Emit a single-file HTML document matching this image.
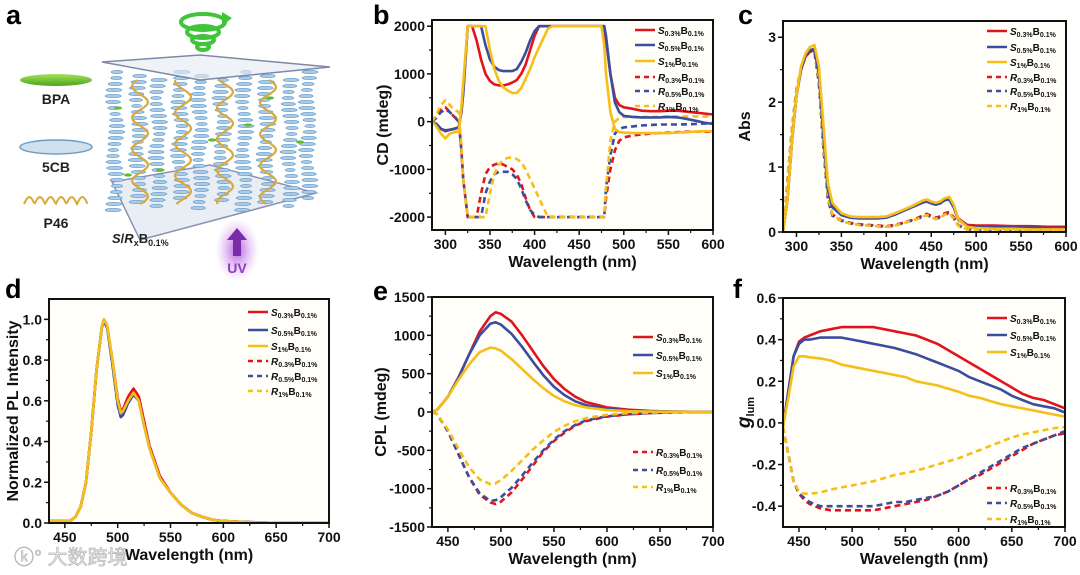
<!DOCTYPE html>
<html><head><meta charset="utf-8">
<style>
html,body{margin:0;padding:0;background:#fff;}
svg{display:block;font-family:"Liberation Sans",Arial,sans-serif;}
.tk{font-size:14px;font-weight:bold;fill:#111;}
.at{font-size:16px;font-weight:bold;fill:#111;}
.lg{font-size:10px;font-weight:bold;fill:#111;}
.pl{font-size:27px;font-weight:bold;fill:#000;}
</style></head>
<body>
<svg id="fig" width="1080" height="575" viewBox="0 0 1080 575" xmlns="http://www.w3.org/2000/svg">
<g id="panelA"></g>
</svg>
<script>
// ---------- DATA ----------
const colors = ["#e0141e","#3a4ea0","#f5bf1a"];
const seriesNames = ["S0.3","S0.5","S1","R0.3","R0.5","R1"];

const bWl = [285,290,295,300,305,310,315,318,320,325,330,335,340,345,350,355,360,365,370,375,380,385,390,395,400,405,410,415,420,430,440,450,460,470,475,478,480,485,490,495,500,510,520,530,540,550,560,570,580,590,600];
const bS03 = [0,-50,-150,-200,-170,-150,-120,200,600,2000,2000,1700,1300,1000,850,780,760,760,780,820,870,1000,1200,1500,1800,2000,2000,2000,2000,2000,2000,2000,2000,2000,2000,2000,1700,1000,500,350,300,270,230,220,220,230,230,210,190,170,150];
const bS05 = [0,-50,-150,-180,-170,-150,-120,200,600,2000,2000,2000,2000,1600,1300,1150,1080,1060,1060,1060,1100,1250,1450,1700,1900,2000,2000,2000,2000,2000,2000,2000,2000,2000,2000,2000,1800,1000,400,200,120,100,90,90,90,100,90,60,20,-20,-50];
const bS1 = [0,-100,-250,-350,-250,-220,-200,300,800,2000,2000,2000,2000,2000,1500,1100,850,720,650,600,600,700,900,1100,1350,1550,1750,1950,2000,2000,2000,2000,2000,2000,2000,1600,1000,200,-150,-220,-230,-240,-240,-240,-240,-240,-230,-220,-210,-200,-200];
const bR03 = [0,100,250,300,200,100,50,-600,-1200,-2000,-2000,-2000,-1500,-1100,-950,-900,-870,-900,-950,-1000,-1100,-1300,-1600,-1850,-2000,-2000,-2000,-2000,-2000,-2000,-2000,-2000,-2000,-2000,-2000,-2000,-1600,-1000,-600,-400,-330,-290,-270,-250,-240,-230,-220,-210,-210,-210,-210];
const bR05 = [0,80,200,250,200,100,0,-600,-1200,-2000,-2000,-2000,-2000,-1500,-1250,-1100,-1050,-1050,-1050,-1100,-1200,-1400,-1650,-1850,-1950,-2000,-2000,-2000,-2000,-2000,-2000,-2000,-2000,-2000,-2000,-2000,-1400,-700,-250,-150,-120,-100,-80,-70,-60,-60,-60,-55,-50,-40,-30];
const bR1 = [0,150,350,450,350,250,200,-500,-1200,-2000,-2000,-2000,-2000,-2000,-1500,-1100,-900,-800,-760,-750,-780,-850,-1000,-1200,-1400,-1600,-1800,-2000,-2000,-2000,-2000,-2000,-2000,-2000,-2000,-2000,-1400,-400,0,80,100,100,100,100,100,110,110,110,110,110,110];
const bYTicks = [-2000,-1000,0,1000,2000];
const bXTicks = [300,350,400,450,500,550,600];

const cWl = [285,290,295,300,305,310,315,320,325,330,335,340,350,360,370,380,390,400,410,420,430,440,445,450,455,460,465,470,475,480,490,500,520,540,560,580,600];
const cS03 = [0,0.5,1.4,2.1,2.5,2.7,2.78,2.8,2.45,1.55,0.7,0.42,0.28,0.23,0.22,0.22,0.22,0.23,0.28,0.34,0.40,0.46,0.48,0.45,0.43,0.45,0.49,0.51,0.40,0.21,0.11,0.1,0.1,0.09,0.09,0.08,0.08];
const cS05 = [0,0.5,1.4,2.1,2.5,2.72,2.8,2.82,2.45,1.5,0.65,0.38,0.26,0.22,0.21,0.21,0.21,0.22,0.27,0.33,0.39,0.45,0.47,0.44,0.42,0.44,0.49,0.5,0.38,0.19,0.09,0.08,0.08,0.07,0.07,0.06,0.06];
const cS1 = [0,0.5,1.4,2.1,2.55,2.75,2.85,2.88,2.55,1.65,0.75,0.45,0.29,0.24,0.23,0.23,0.23,0.24,0.29,0.35,0.41,0.48,0.5,0.47,0.45,0.47,0.52,0.54,0.42,0.2,0.08,0.06,0.05,0.05,0.04,0.04,0.04];
const cR03 = [0,0.8,1.6,2.2,2.5,2.7,2.78,2.78,2.3,1.3,0.5,0.27,0.18,0.14,0.12,0.11,0.1,0.09,0.11,0.15,0.19,0.25,0.28,0.25,0.22,0.24,0.29,0.31,0.23,0.11,0.05,0.04,0.03,0.03,0.03,0.03,0.03];
const cR05 = [0,0.8,1.6,2.2,2.5,2.7,2.78,2.78,2.3,1.3,0.5,0.25,0.17,0.13,0.11,0.1,0.09,0.08,0.1,0.14,0.18,0.23,0.26,0.23,0.2,0.22,0.27,0.29,0.21,0.1,0.04,0.03,0.03,0.02,0.02,0.02,0.02];
const cR1 = [0,0.8,1.6,2.2,2.5,2.7,2.8,2.8,2.35,1.35,0.55,0.27,0.17,0.13,0.11,0.1,0.09,0.08,0.1,0.14,0.18,0.23,0.26,0.23,0.2,0.22,0.27,0.29,0.21,0.1,0.04,0.03,0.03,0.02,0.02,0.02,0.02];
const cYTicks = [0,1,2,3];
const cXTicks = [300,350,400,450,500,550,600];

const dWl = [435,440,450,455,460,465,470,475,480,485,487,490,495,500,503,505,510,515,520,525,530,540,550,560,570,580,590,600,620,650,700];
const dS03 = [0.01,0.01,0.01,0.01,0.03,0.08,0.2,0.45,0.75,0.96,1.0,0.97,0.8,0.61,0.55,0.56,0.62,0.66,0.62,0.5,0.38,0.23,0.15,0.09,0.05,0.03,0.015,0.01,0.005,0,0];
const dS05 = [0.01,0.01,0.01,0.01,0.03,0.08,0.2,0.45,0.75,0.96,0.99,0.96,0.78,0.58,0.52,0.53,0.59,0.63,0.6,0.48,0.37,0.22,0.15,0.09,0.05,0.03,0.015,0.01,0.005,0,0];
const dS1 = [0.01,0.01,0.01,0.01,0.03,0.08,0.2,0.45,0.75,0.96,1.0,0.97,0.8,0.6,0.54,0.55,0.6,0.64,0.6,0.48,0.37,0.22,0.15,0.09,0.05,0.03,0.015,0.01,0.005,0,0];
const dR03 = dS03.slice();
const dR05 = dS05.slice();
const dR1 = dS1.slice();
const dYTicks = [0.0,0.2,0.4,0.6,0.8,1.0];
const dXTicks = [450,500,550,600,650,700];

const eWl = [435,440,450,460,470,480,490,495,500,510,520,530,540,550,560,570,580,600,620,640,660,680,700];
const eS03 = [0,30,200,450,750,1050,1250,1300,1280,1180,1000,800,600,430,300,200,130,60,30,15,5,2,0];
const eS05 = [0,30,200,450,750,1000,1150,1170,1140,1020,850,660,480,330,220,140,90,40,20,10,5,2,0];
const eS1 = [0,30,200,420,620,780,840,830,800,690,560,430,310,210,140,90,60,25,10,5,2,1,0];
const eR03 = [0,-30,-250,-550,-850,-1080,-1180,-1200,-1170,-1050,-880,-700,-520,-380,-270,-180,-120,-60,-30,-15,-5,-2,0];
const eR05 = [0,-30,-250,-550,-850,-1060,-1160,-1150,-1110,-990,-830,-660,-500,-360,-250,-170,-110,-55,-30,-15,-5,-2,0];
const eR1 = [0,-30,-230,-480,-720,-880,-940,-930,-890,-770,-630,-490,-370,-260,-180,-120,-80,-35,-15,-8,-3,-1,0];
const eYTicks = [-1500,-1000,-500,0,500,1000,1500];
const eXTicks = [450,500,550,600,650,700];

const fWl = [435,440,445,450,455,460,470,480,490,500,510,520,530,540,550,560,570,580,590,600,610,620,630,640,650,660,670,680,690,700];
const fS03 = [-0.02,0.15,0.32,0.39,0.41,0.42,0.44,0.45,0.46,0.46,0.46,0.46,0.45,0.44,0.43,0.42,0.40,0.38,0.35,0.32,0.29,0.26,0.23,0.20,0.17,0.14,0.12,0.11,0.09,0.07];
const fS05 = [-0.02,0.15,0.32,0.38,0.40,0.40,0.41,0.41,0.41,0.40,0.39,0.38,0.37,0.36,0.345,0.33,0.31,0.29,0.27,0.25,0.22,0.20,0.18,0.16,0.13,0.11,0.09,0.08,0.07,0.05];
const fS1 = [-0.02,0.12,0.27,0.32,0.32,0.315,0.31,0.30,0.28,0.27,0.26,0.25,0.24,0.23,0.22,0.20,0.19,0.18,0.165,0.15,0.13,0.12,0.105,0.09,0.08,0.07,0.06,0.05,0.04,0.03];
const fR03 = [-0.02,-0.15,-0.28,-0.34,-0.37,-0.39,-0.41,-0.42,-0.42,-0.42,-0.42,-0.42,-0.41,-0.40,-0.39,-0.38,-0.37,-0.35,-0.33,-0.30,-0.27,-0.25,-0.22,-0.19,-0.16,-0.13,-0.10,-0.08,-0.06,-0.05];
const fR05 = [-0.02,-0.15,-0.28,-0.34,-0.36,-0.38,-0.40,-0.40,-0.40,-0.40,-0.40,-0.40,-0.39,-0.38,-0.38,-0.37,-0.36,-0.35,-0.33,-0.30,-0.27,-0.24,-0.21,-0.18,-0.15,-0.12,-0.10,-0.08,-0.06,-0.04];
const fR1 = [-0.02,-0.15,-0.28,-0.33,-0.34,-0.34,-0.335,-0.32,-0.31,-0.30,-0.29,-0.28,-0.265,-0.25,-0.24,-0.23,-0.215,-0.20,-0.185,-0.17,-0.15,-0.13,-0.11,-0.09,-0.07,-0.055,-0.045,-0.035,-0.025,-0.02];
const fYTicks = [-0.4,-0.2,0.0,0.2,0.4,0.6];
const fXTicks = [450,500,550,600,650,700];

// ---------- DRAW ----------
const NS = "http://www.w3.org/2000/svg";
const fig = document.getElementById('fig');
function mk(tag, attrs, parent){ const e=document.createElementNS(NS,tag); for(const k in attrs) e.setAttribute(k,attrs[k]); (parent||fig).appendChild(e); return e; }

function legendLabel(g, x, y, letter, sub){
  const t = mk('text',{x:x,y:y,class:'lg'},g);
  
  
  t.innerHTML = '<tspan font-style="italic">'+letter+'</tspan><tspan font-size="7" dy="2">'+sub+'%</tspan><tspan dy="-2">B</tspan><tspan font-size="7" dy="2">0.1%</tspan>';
}

function panel(p){
  const g = mk('g',{});
  
  
  const sx = v => p.L + (v - p.x0)/(p.x1 - p.x0)*(p.R - p.L);
  const sy = v => p.B - (v - p.y0)/(p.y1 - p.y0)*(p.B - p.T);
  const bg = mk('rect',{x:p.L,y:p.T,width:p.R-p.L,height:p.B-p.T,fill:'#fffef9'},g);
  
  
  const clipId = 'clip'+p.name;
  const cp = mk('clipPath',{id:clipId},g);
  mk('rect',{x:p.L,y:p.T,width:p.R-p.L,height:p.B-p.T},cp);
  const lines = mk('g',{'clip-path':'url(#'+clipId+')'},g);
  const order = [3,4,5,0,1,2];
  order.forEach(i=>{
    const ys = p.series[i];
    let d = '';
    p.xs.forEach((xv,j)=>{ d += (j?'L':'M') + sx(xv).toFixed(1) + ',' + sy(ys[j]).toFixed(1); });
    const path = mk('path',{d:d,fill:'none',stroke:colors[i%3],'stroke-width':2.6,'stroke-linejoin':'round','stroke-dasharray': i>=3 ? '6,4' : 'none'},lines);
    
    
  });
  const fr = mk('rect',{x:p.L,y:p.T,width:p.R-p.L,height:p.B-p.T,fill:'none',stroke:'#111','stroke-width':2},g);
  
  
  p.xt.forEach((v,k)=>{
    const x = sx(v);
    mk('line',{x1:x,y1:p.B,x2:x,y2:p.B+5,stroke:'#111','stroke-width':1.5},g);
    if(k<p.xt.length-1){ const xm = sx((v+p.xt[k+1])/2); mk('line',{x1:xm,y1:p.B,x2:xm,y2:p.B+3,stroke:'#111','stroke-width':1.2},g); }
    const t = mk('text',{x:x,y:p.B+19,'text-anchor':'middle',class:'tk'},g);
    
    
    t.textContent = v;
  });
  p.yt.forEach((v,k)=>{
    const y = sy(v);
    mk('line',{x1:p.L-5,y1:y,x2:p.L,y2:y,stroke:'#111','stroke-width':1.5},g);
    if(k<p.yt.length-1){ const ym = sy((v+p.yt[k+1])/2); mk('line',{x1:p.L-3,y1:ym,x2:p.L,y2:ym,stroke:'#111','stroke-width':1.2},g); }
    const t = mk('text',{x:p.L-7,y:y+5,'text-anchor':'end',class:'tk'},g);
    
    
    t.textContent = p.fmt ? p.fmt(v) : v;
  });
  const xt = mk('text',{x:(p.L+p.R)/2,y:p.B+37,'text-anchor':'middle',class:'at'},g);
  
  
  xt.textContent = 'Wavelength (nm)';
  const yt = mk('text',{x:0,y:0,'text-anchor':'middle',class:'at',transform:'translate('+p.ytx+','+((p.T+p.B)/2)+') rotate(-90)'},g);
  
  
  if(p.ytitleHTML) yt.innerHTML = p.ytitleHTML; else yt.textContent = p.ytitle;
  const pl = mk('text',{x:p.lx,y:p.ly,class:'pl'},g);
  
  
  pl.textContent = p.letter;
  const lg = mk('g',{},g);
  
  
  p.legY.forEach((y,i)=>{
    if(y==null) return;
    const ln = mk('line',{x1:p.legX,y1:y,x2:p.legX+20,y2:y,stroke:colors[i%3],'stroke-width':2.6,'stroke-dasharray': i>=3?'5,4':'none'},lg);
    
    
    const subs = ['0.3','0.5','1'];
    legendLabel(lg, p.legX+23, y+4, i<3?'S':'R', subs[i%3]);
  });
}

panel({name:'cd-chart-b',letter:'b',lx:373,ly:24,L:432,R:713,T:20,B:230,x0:285,x1:600,y0:-2270,y1:2130,
  xs:bWl,series:[bS03,bS05,bS1,bR03,bR05,bR1],xt:bXTicks,yt:bYTicks,ytitle:'CD (mdeg)',ytx:388,
  legX:635,legY:[30,45,61,77,91,106]});
panel({name:'abs-chart-c',letter:'c',lx:738,ly:24,L:783,R:1066,T:21,B:232,x0:285,x1:600,y0:0,y1:3.25,
  xs:cWl,series:[cS03,cS05,cS1,cR03,cR05,cR1],xt:cXTicks,yt:cYTicks,ytitle:'Abs',ytx:750,
  legX:987,legY:[31,47,62,77,91,106]});
panel({name:'pl-chart-d',letter:'d',lx:5,ly:298,L:49,R:329,T:299,B:523,x0:435,x1:700,y0:0,y1:1.1,
  xs:dWl,series:[dS03,dS05,dS1,dR03,dR05,dR1],xt:dXTicks,yt:dYTicks,ytitle:'Normalized PL Intensity',ytx:18,fmt:v=>v.toFixed(1),
  legX:248,legY:[312,330,346,361,376,391]});
panel({name:'cpl-chart-e',letter:'e',lx:373,ly:300,L:432,R:713,T:297,B:527,x0:435,x1:700,y0:-1500,y1:1500,
  xs:eWl,series:[eS03,eS05,eS1,eR03,eR05,eR1],xt:eXTicks,yt:eYTicks,ytitle:'CPL (mdeg)',ytx:386,
  legX:633,legY:[337,355,373,452,470,487]});
panel({name:'glum-chart-f',letter:'f',lx:733,ly:298,L:783,R:1065,T:298,B:527,x0:435,x1:700,y0:-0.5,y1:0.6,
  xs:fWl,series:[fS03,fS05,fS1,fR03,fR05,fR1],xt:fXTicks,yt:fYTicks,ytitleHTML:'<tspan font-style="italic" font-size="19">g</tspan><tspan font-size="11" dy="4">lum</tspan>',ytx:750,fmt:v=>v.toFixed(1),
  legX:987,legY:[318,335,352,488,503,519]});

// ---------- PANEL A (schematic) ----------
const A = document.getElementById('panelA');
function am(tag,attrs){ return mk(tag,attrs,A); }
let t;
t = am('text',{x:6,y:24,class:'pl'}); t.textContent='a';
 
const defs = am('defs',{});
defs.innerHTML = '<radialGradient id="uvg"><stop offset="0" stop-color="#b04be0" stop-opacity="0.9"/><stop offset="1" stop-color="#d9a0f0" stop-opacity="0"/></radialGradient>'+
 '<linearGradient id="bpa" x1="0" y1="0" x2="0" y2="1"><stop offset="0" stop-color="#a6e05a"/><stop offset="1" stop-color="#4aa51e"/></linearGradient>';
let e = am('polygon',{points:'112,182 210,165 316,193 140,240',fill:'#dfe6ef','fill-opacity':0.7,stroke:'#8a93b5','stroke-width':1.5});
 
const cols = [115,138,158,180,200,222,244,266,290,308];
cols.forEach((cx,ci)=>{
  for(let y=72+(ci%3)*4; y<212-(ci%2)*8; y+=6){
    const w = 5 + 3*Math.abs(Math.sin((y+ci*7)/12));
    am('ellipse',{cx:cx+2*Math.sin(y/9),cy:y,rx:w,ry:1.6,fill:'#a9cbe8',stroke:'#5d97c9','stroke-width':0.6});
  }
});
[140,183,225,268].forEach((cx,ci)=>{
  let d='';
  for(let y=80; y<=205; y+=2){ const x = cx + 8*Math.sin((y+ci*5)/5); d += (y===80?'M':'L')+x.toFixed(1)+','+y; }
  am('path',{d:d,fill:'none',stroke:'#d9a93a','stroke-width':2.2});
});
[[118,108],[160,170],[212,140],[248,125],[300,142],[270,98],[128,175]].forEach(p=>{
  am('ellipse',{cx:p[0],cy:p[1],rx:4,ry:1.6,fill:'#5fbf2a'});
});
e = am('polygon',{points:'102,62 200,55 330,67 200,80',fill:'#e4eaf2','fill-opacity':0.6,stroke:'#7f88a8','stroke-width':1.5});
 
e = am('g',{});  
[[203,22,22,8],[203,32,16,6],[203,40,11,4],[203,47,6,3]].forEach(q=>{
  mk('ellipse',{cx:q[0],cy:q[1],rx:q[2],ry:q[3],fill:'none',stroke:'#3fc43a','stroke-width':4},e);
});
mk('polygon',{points:'222,12 232,18 222,26',fill:'#3fc43a'},e);
am('ellipse',{cx:237,cy:250,rx:22,ry:32,fill:'url(#uvg)'});
e = am('polygon',{points:'237,228 227,240 233,240 233,256 241,256 241,240 247,240',fill:'#7a2ca8'});
 
t = am('text',{x:237,y:273,'text-anchor':'middle','font-size':14,'font-weight':'bold',fill:'#8e3cc0'}); t.textContent='UV';
 
e = am('ellipse',{cx:56,cy:80,rx:36,ry:6,fill:'url(#bpa)'});
 
t = am('text',{x:56,y:104,'text-anchor':'middle','font-size':14,'font-weight':'bold',fill:'#222'}); t.textContent='BPA';
 
e = am('ellipse',{cx:56,cy:147,rx:36,ry:7,fill:'#cfe0ef',stroke:'#6f9cc4','stroke-width':1.5});
 
t = am('text',{x:56,y:172,'text-anchor':'middle','font-size':14,'font-weight':'bold',fill:'#222'}); t.textContent='5CB';
 
let dd='';
for(let x=24;x<=88;x+=1){ const y=204-7*Math.abs(Math.sin((x-24)*Math.PI/10.6)); dd+=(x===24?'M':'L')+x+','+y.toFixed(1); }
e = am('path',{d:dd,fill:'none',stroke:'#d9a93a','stroke-width':2});
 
t = am('text',{x:56,y:228,'text-anchor':'middle','font-size':14,'font-weight':'bold',fill:'#222'}); t.textContent='P46';
 
t = am('text',{x:112,y:243,'font-size':13,'font-weight':'bold',fill:'#222'});
t.innerHTML='<tspan font-style="italic">S</tspan>/<tspan font-style="italic">R</tspan><tspan font-size="9" dy="3">x</tspan><tspan dy="-3">B</tspan><tspan font-size="9" dy="3">0.1%</tspan>';
 
t = mk('text',{x:14,y:564,'font-size':20,fill:'#e8e8e8',stroke:'#b8b8b8','stroke-width':0.7,'font-family':'"Liberation Sans","Noto Sans CJK SC",sans-serif'});
t.textContent='ⓚ° 大数跨境';
 
</script>
</body></html>
